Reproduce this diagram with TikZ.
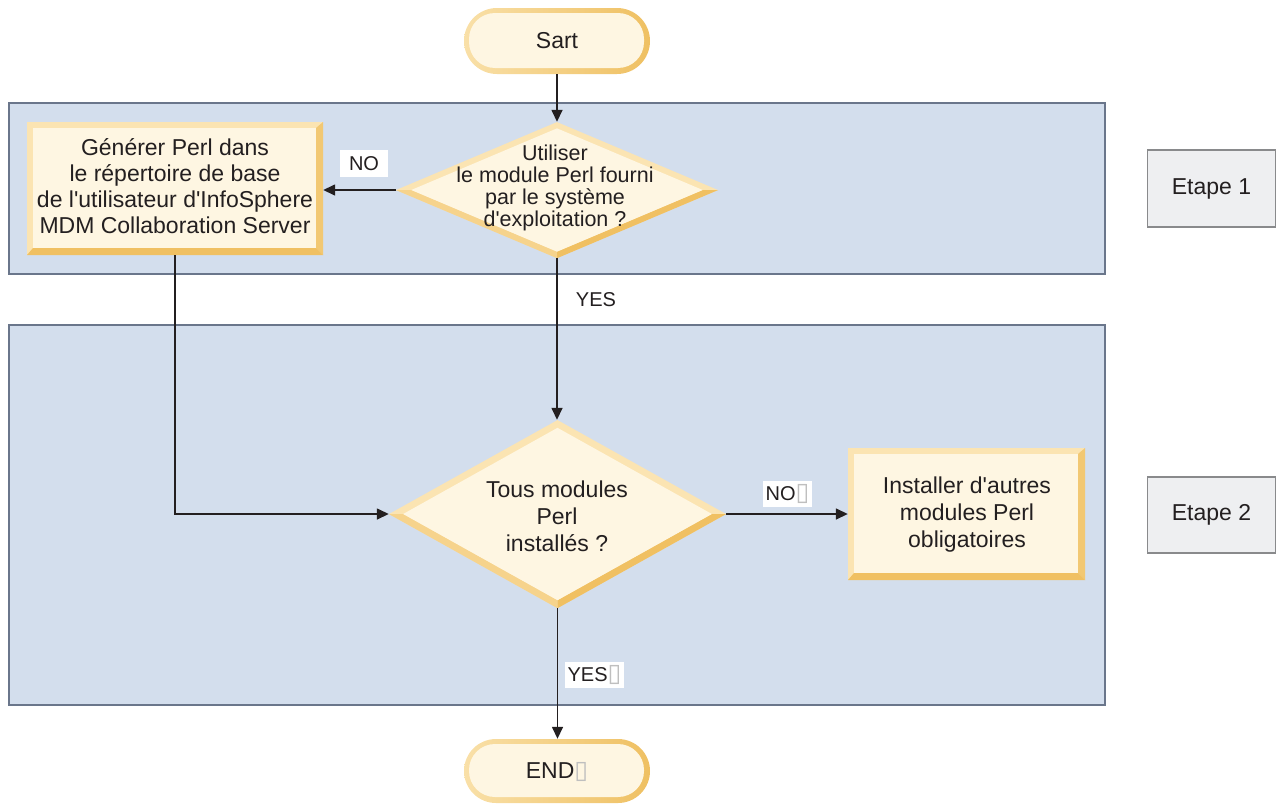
\documentclass[tikz,border=0pt]{standalone}
\usepackage{fontspec}
\setmainfont{Liberation Sans}
\newfontfamily\symfont{DejaVu Sans}
\usetikzlibrary{arrows.meta,shapes.geometric,shapes.misc,calc}

\definecolor{bandfill}{HTML}{D3DEED}
\definecolor{bandline}{HTML}{6A768B}
\definecolor{cream}{HTML}{FEF6E2}
\definecolor{bevlight}{HTML}{FBE4B2}
\definecolor{bevmid}{HTML}{F6D38C}
\definecolor{bevright}{HTML}{F2C873}
\definecolor{bevdark}{HTML}{F0C062}
\definecolor{termlight}{HTML}{F9E0A8}
\definecolor{termdark}{HTML}{EFC062}
\definecolor{ink}{HTML}{231F20}
\definecolor{stepfill}{HTML}{EEEFF1}
\definecolor{stepline}{HTML}{898A8C}

\newcommand\fsz[2]{\fontsize{#1}{#2}\selectfont}
\newcommand\tofu{{\symfont\color{black!25}\fsz{25}{25}▯}}
\newcommand\q{\textquotesingle}

\tikzset{
  band/.style={rectangle, fill=bandfill, draw=bandline, line width=1.4pt, inner sep=0pt},
  stepbox/.style={rectangle, fill=stepfill, draw=stepline, line width=1.4pt, inner sep=0pt,
    minimum width=128pt, text=ink, font=\fsz{23}{26}},
  terminal/.style={rounded rectangle, inner sep=0pt, minimum width=186pt, minimum height=#1,
    left color=termlight, right color=termdark,
    path picture={
      \fill[cream, rounded corners=26pt]
        ([shift={(5pt,6pt)}]path picture bounding box.south west)
        rectangle ([shift={(-6pt,-5pt)}]path picture bounding box.north east);
    }},
  procbox/.style={rectangle, inner sep=0pt, fill=bevlight,
    path picture={
      \fill[bevright] (path picture bounding box.south east)
        -- (path picture bounding box.north east)
        -- ([shift={(-7pt,-6pt)}]path picture bounding box.north east)
        -- ([shift={(-7pt,7pt)}]path picture bounding box.south east) -- cycle;
      \fill[bevdark] (path picture bounding box.south west)
        -- (path picture bounding box.south east)
        -- ([shift={(-7pt,7pt)}]path picture bounding box.south east)
        -- ([shift={(6pt,7pt)}]path picture bounding box.south west) -- cycle;
      \fill[cream] ([shift={(6pt,7pt)}]path picture bounding box.south west)
        rectangle ([shift={(-7pt,-6pt)}]path picture bounding box.north east);
    }},
  decision/.style={diamond, inner sep=0pt, fill=bevlight},
  txt/.style={align=center, text=ink, inner sep=0pt},
  lbl/.style={fill=white, text=ink, inner sep=0pt, font=\fsz{20}{22}},
  conn/.style={draw=ink, line width=1.5pt, -{Triangle[length=12pt,width=11pt]}},
}

\begin{document}
\begin{tikzpicture}[x=1pt,y=-1pt]
\useasboundingbox (0,0) rectangle (1276,803);

% swim lanes
\node[band, minimum width=1096pt, minimum height=171pt] (band1) at (557,188.5) {};
\node[band, minimum width=1096pt, minimum height=380pt] (band2) at (557,515) {};

% step tags
\node[stepbox, minimum height=77pt] (step1) at (1211.5,188.5) {Etape 1};
\node[stepbox, minimum height=76pt] (step2) at (1211.5,515) {Etape 2};

% terminals
\node[terminal=66pt] (start) at (557,41) {};
\node[txt, font=\fsz{23}{26}] (starttxt) at (start.center) {Sart};
\node[terminal=64pt] (end) at (557,771) {};
\node[txt, font=\fsz{23}{26}] (endtxt) at (557,772) {END\tofu};

% first decision
\node[decision, minimum width=322pt, minimum height=136pt] (d1) at (557,190) {};
\coordinate (d1n) at ($(d1.center)!0.904!(d1.north)$);
\coordinate (d1e) at ($(d1.center)!0.904!(d1.east)$);
\coordinate (d1s) at ($(d1.center)!0.904!(d1.south)$);
\coordinate (d1w) at ($(d1.center)!0.904!(d1.west)$);
\fill[bevmid] (d1.west) -- (d1.south) -- (d1s) -- (d1w) -- cycle;
\fill[bevdark] (d1.east) -- (d1.south) -- (d1s) -- (d1e) -- cycle;
\fill[cream] (d1n) -- (d1e) -- (d1s) -- (d1w) -- cycle;
\node[txt, font=\fsz{21.5}{22}] (d1txt) at (555,188)
  {Utiliser\\le module Perl fourni\\par le système\\d\q exploitation ?};

% second decision
\node[decision, minimum width=337pt, minimum height=188pt] (d2) at (557.5,514) {};
\coordinate (d2n) at ($(d2.center)!0.915!(d2.north)$);
\coordinate (d2e) at ($(d2.center)!0.915!(d2.east)$);
\coordinate (d2s) at ($(d2.center)!0.915!(d2.south)$);
\coordinate (d2w) at ($(d2.center)!0.915!(d2.west)$);
\fill[bevmid] (d2.west) -- (d2.south) -- (d2s) -- (d2w) -- cycle;
\fill[bevdark] (d2.east) -- (d2.south) -- (d2s) -- (d2e) -- cycle;
\fill[cream] (d2n) -- (d2e) -- (d2s) -- (d2w) -- cycle;
\node[txt, font=\fsz{23}{27}] (d2txt) at (557,516)
  {Tous modules\\Perl\\installés ?};

% process boxes
\node[procbox, minimum width=296pt, minimum height=133pt] (gen) at (175,188.5) {};
\node[txt, font=\fsz{23}{26}] (gentxt) at (175,186)
  {Générer Perl dans\\le répertoire de base\\de l\q utilisateur d\q InfoSphere\\MDM Collaboration Server};
\node[procbox, minimum width=237pt, minimum height=132pt] (inst) at (966.5,514) {};
\node[txt, font=\fsz{23}{27}] (insttxt) at (967,515)
  {Installer d\q autres\\modules Perl\\obligatoires};

% connectors
\draw[conn] (start.south) -- (d1.north);
\draw[conn] (d1.west) -- (d1.west -| gen.east);
\draw[conn] (d1.south) -- (d1.south |- d2.north);
\draw[conn] (gen.south) |- (d2.west);
\draw[conn] (d2.east) -- (d2.east -| inst.west);
\draw[conn] (d2.south) -- (d2.south |- end.north);

% branch labels
\node[lbl, minimum width=48pt, minimum height=27pt] (no1) at (364,163.5) {NO};
\node[lbl, minimum width=44pt, minimum height=27pt] (yes1) at (596,300) {YES};
\node[lbl, minimum width=49pt, minimum height=26pt] (no2) at (787.5,494) {NO\tofu};
\node[lbl, minimum width=59pt, minimum height=26pt] (yes2) at (594.5,675) {YES\tofu};
\end{tikzpicture}
\end{document}
